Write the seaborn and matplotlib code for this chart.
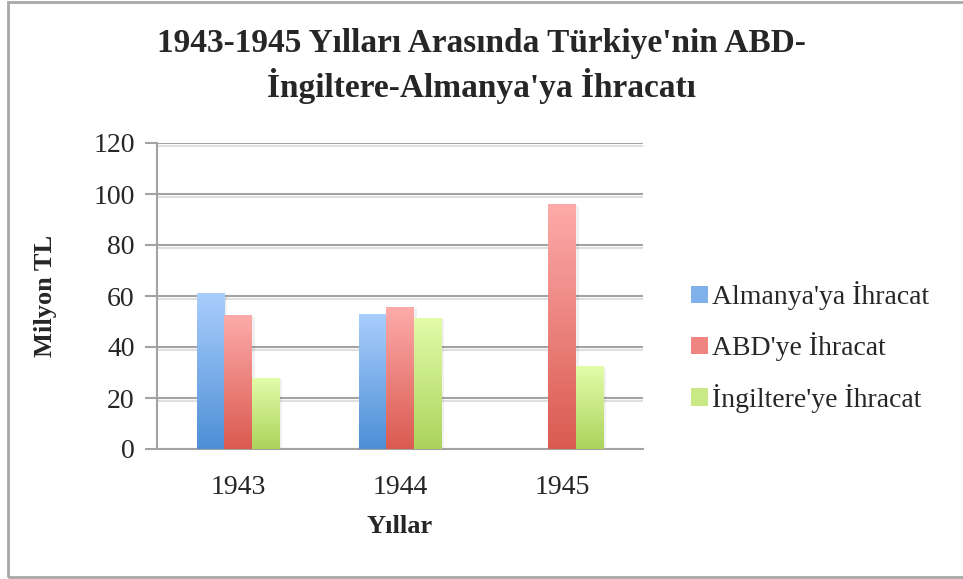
import numpy as np
import pandas as pd
import matplotlib
matplotlib.use('Agg')
import matplotlib.pyplot as plt
import matplotlib.patheffects as pe
from matplotlib.colors import LinearSegmentedColormap
from matplotlib.patches import Patch, Rectangle
import seaborn as sns

# Veriler (milyon TL)
years = ['1943', '1944', '1945']
series = ["Almanya'ya İhracat", "ABD'ye İhracat", "İngiltere'ye İhracat"]
almanya = [61, 53, np.nan]
abd = [52.5, 55.5, 96]
ingiltere = [28, 51.5, 32.5]
yticks = [0, 20, 40, 60, 80, 100, 120]

# renkler: (üst, alt) gradyan
top_colors = ['#aacefd', '#fdabaa', '#e3fcaa']
bottom_colors = ['#4d8fd6', '#da5a50', '#acd35c']
mid_colors = ['#7fb0ea', '#ee8580', '#c9e886']

df = pd.DataFrame({
    'Yıl': years * 3,
    'Seri': [s for s in series for _ in years],
    'Değer': almanya + abd + ingiltere,
})

sns.set_style('white')
plt.rcParams['font.family'] = ['Liberation Serif', 'DejaVu Serif']

fig = plt.figure(figsize=(9.63, 5.79), dpi=100)
ax = fig.add_axes([157 / 963, 130 / 579, 486 / 963, 306 / 579])

sns.barplot(data=df, x='Yıl', y='Değer', hue='Seri', hue_order=series,
            order=years, palette=mid_colors, width=0.51, errorbar=None,
            legend=False, ax=ax)

# her çubuğa dikey gradyan + hafif gölge
grad = np.linspace(0, 1, 256).reshape(-1, 1)
for i, container in enumerate(ax.containers):
    cmap = LinearSegmentedColormap.from_list('g%d' % i, [top_colors[i], bottom_colors[i]])
    for bar in container:
        h = bar.get_height()
        if not np.isfinite(h) or h == 0:
            continue
        x0 = bar.get_x()
        w = bar.get_width()
        bar.set_facecolor('none')
        bar.set_edgecolor('none')
        shadow = Rectangle((x0, 0), w, h, facecolor='none', edgecolor='none', zorder=2,
                           path_effects=[pe.SimplePatchShadow(offset=(2, -1), shadow_rgbFace='black', alpha=0.06)])
        ax.add_patch(shadow)
        im = ax.imshow(grad, cmap=cmap, aspect='auto', extent=[x0, x0 + w, 0, h],
                       origin='upper', zorder=3)
        im.set_clip_path(bar)

ax.set_xlim(-0.5, 2.5)
ax.set_ylim(0, 120)
ax.set_yticks(yticks)

# ızgara ve eksenler
ax.yaxis.grid(True, color='#a3a3a3', linewidth=1.5)
ax.set_axisbelow(True)
for line in ax.get_ygridlines():
    line.set_path_effects([pe.SimpleLineShadow(offset=(0, -2), shadow_color='gray', alpha=0.25), pe.Normal()])
for side in ['top', 'right']:
    ax.spines[side].set_visible(False)
for side in ['left', 'bottom']:
    ax.spines[side].set_color('#a3a3a3')
    ax.spines[side].set_linewidth(1.5)
ax.tick_params(axis='y', which='both', left=True, length=9, width=1.5, color='#a3a3a3',
               labelsize=20, pad=7)
ax.tick_params(axis='x', bottom=False, labelsize=20, pad=15)

ax.set_xlabel('Yıllar', fontsize=19, fontweight='bold', labelpad=11)
ax.set_ylabel('Milyon TL', fontsize=19, fontweight='bold', labelpad=26)

fig.text(0.5, 1 - 66 / 579,
         "1943-1945 Yılları Arasında Türkiye'nin ABD-\nİngiltere-Almanya'ya İhracatı",
         ha='center', va='center', fontsize=24, fontweight='bold', linespacing=1.3)

handles = [Patch(facecolor=c, edgecolor='none') for c in mid_colors]
fig.legend(handles, series, loc='center left', bbox_to_anchor=(677 / 963, 1 - 347 / 579),
           frameon=False, fontsize=20, handlelength=0.6, handleheight=0.6,
           handletextpad=0.15, labelspacing=0.8, borderpad=0)

# dış çerçeve
fig.patches.append(Rectangle((8 / 963, 2 / 579), 1.0, 575 / 579, transform=fig.transFigure,
                             fill=False, edgecolor='#a8a8a8', linewidth=2))

fig.savefig('out.png', dpi=100)
